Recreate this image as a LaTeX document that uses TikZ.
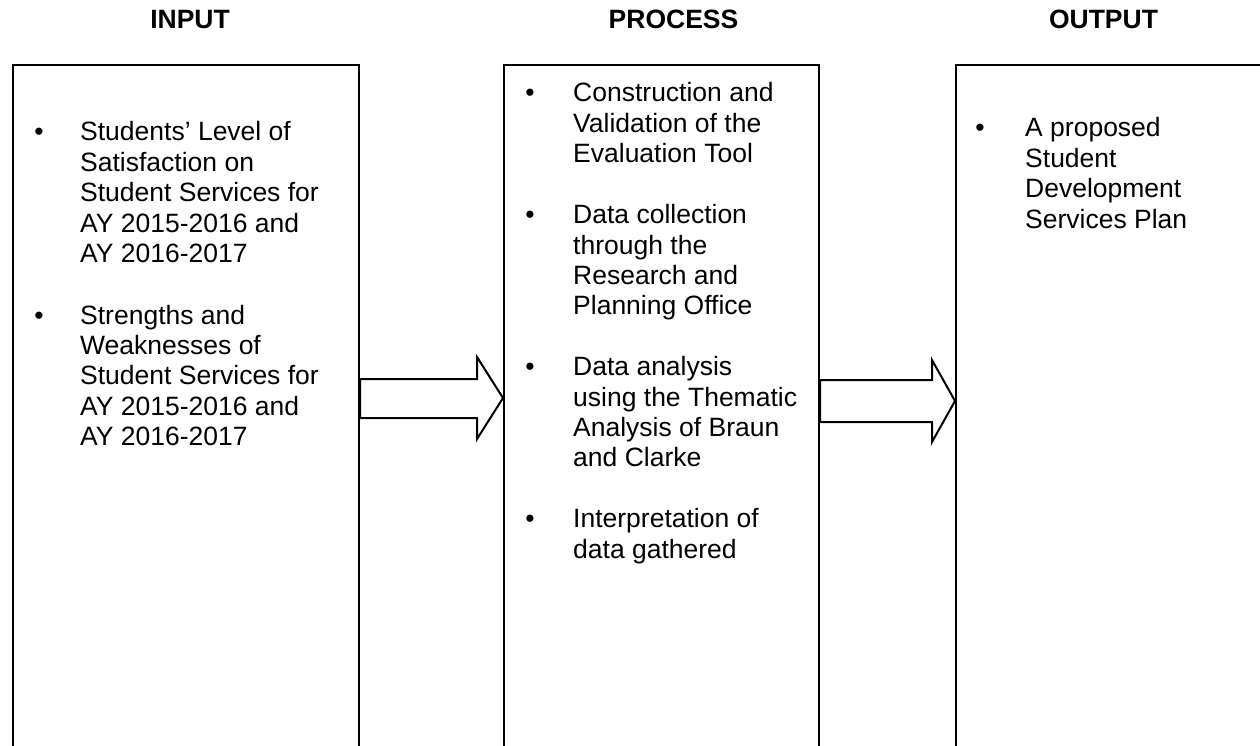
\documentclass[tikz,border=0pt]{standalone}
\usepackage{fontspec}
\setmainfont{Liberation Sans}
% a column of lines whose reference point is the first line's baseline
\newcommand\linestack[1]{\begin{tabular}[t]{@{}l@{}}#1\end{tabular}}
\begin{document}
\begin{tikzpicture}[x=1pt,y=-1pt,
  frame/.style={draw=black, line width=2pt, rectangle, anchor=north west, inner sep=0, minimum height=720pt},
  head/.style={font=\fontsize{26.5}{30.4}\selectfont\bfseries, anchor=base, inner sep=0},
  item/.style={font=\fontsize{26.5}{30.4}\selectfont, anchor=base west, inner sep=0},
  dot/.style={font=\fontsize{26.5}{30.4}\selectfont, anchor=base, inner sep=0},
  blockarrow/.style={draw=black, line width=2pt, fill=white, line join=miter}]
\useasboundingbox (0,0) rectangle (1260,746);
\clip (0,0) rectangle (1260,746);

% column headings
\node[head] (hin)   at (190,29)    {INPUT};
\node[head] (hproc) at (673.5,29)  {PROCESS};
\node[head] (hout)  at (1103.5,29) {OUTPUT};

% the three frames, open below the page edge
\node[frame, minimum width=346pt] (in)   at (12,64)  {};
\node[frame, minimum width=315pt] (proc) at (503,64) {};
\node[frame, minimum width=400pt] (out)  at (955,64) {};

% block arrows between the frames
\draw[blockarrow] (in.east |- 0,379) -- (477,379) -- (477,357)
  -- (proc.west |- 0,398) -- (477,439) -- (477,418) -- (in.east |- 0,418) -- cycle;
\draw[blockarrow] (proc.east |- 0,380) -- (932,380) -- (932,360)
  -- (out.west |- 0,401) -- (932,442) -- (932,422) -- (proc.east |- 0,422) -- cycle;

% input items
\node[dot]  (inb1) at (39,141) {\textbullet};
\node[item] (in1)  at (80,141) {\linestack{Students’ Level of\\Satisfaction on\\Student Services for\\AY 2015-2016 and\\AY 2016-2017}};
\node[dot]  (inb2) at (39,324) {\textbullet};
\node[item] (in2)  at (80,324) {\linestack{Strengths and\\Weaknesses of\\Student Services for\\AY 2015-2016 and\\AY 2016-2017}};

% process items
\node[dot]  (pb1) at (530,102) {\textbullet};
\node[item] (p1)  at (573,102) {\linestack{Construction and\\Validation of the\\Evaluation Tool}};
\node[dot]  (pb2) at (530,223.6) {\textbullet};
\node[item] (p2)  at (573,223.6) {\linestack{Data collection\\through the\\Research and\\Planning Office}};
\node[dot]  (pb3) at (530,375.6) {\textbullet};
\node[item] (p3)  at (573,375.6) {\linestack{Data analysis\\using the Thematic\\Analysis of Braun\\and Clarke}};
\node[dot]  (pb4) at (530,527.6) {\textbullet};
\node[item] (p4)  at (573,527.6) {\linestack{Interpretation of\\data gathered}};

% output item
\node[dot]  (ob1) at (980,137) {\textbullet};
\node[item] (o1)  at (1025,137) {\linestack{A proposed\\Student\\Development\\Services Plan}};
\end{tikzpicture}
\end{document}
